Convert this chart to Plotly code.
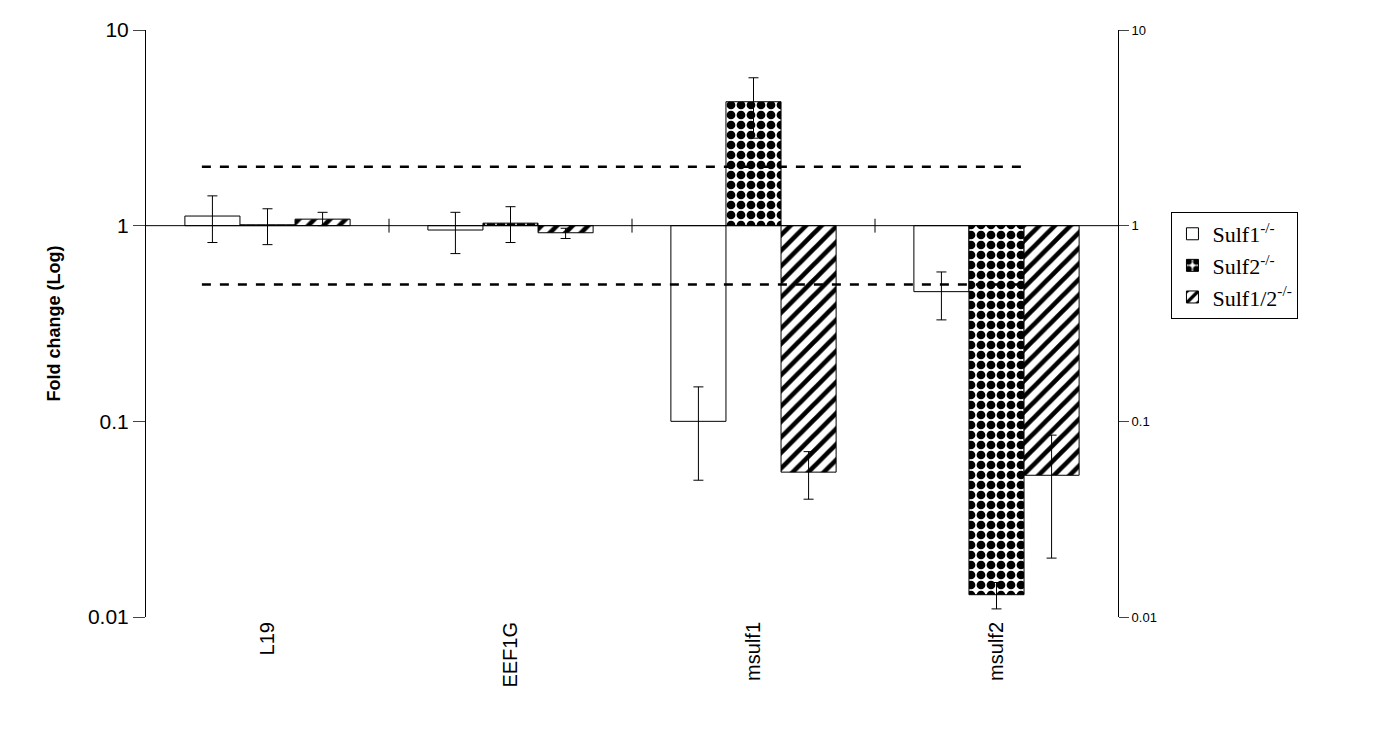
import plotly.graph_objects as go

genes = ["L19", "EEF1G", "msulf1", "msulf2"]
series = ["Sulf1<sup>-/-</sup>", "Sulf2<sup>-/-</sup>", "Sulf1/2<sup>-/-</sup>"]
values = [[1.12, 0.95, 0.10, 0.46],
          [1.01, 1.03, 4.3, 0.013],
          [1.08, 0.92, 0.055, 0.053]]
err_hi = [[1.42, 1.17, 0.15, 0.58],
          [1.22, 1.25, 5.7, 0.015],
          [1.17, 0.97, 0.07, 0.085]]
err_lo = [[0.82, 0.72, 0.05, 0.33],
          [0.80, 0.82, 2.8, 0.011],
          [1.00, 0.86, 0.04, 0.02]]
patterns = ["", ".", "/"]
thresholds = [2, 0.5]

fig = go.Figure()
for i, name in enumerate(series):
    v = values[i]
    pat = dict(shape=patterns[i], fgcolor="black", bgcolor="white", fgopacity=1)
    if patterns[i] == ".":
        pat.update(size=10, solidity=0.6)
    elif patterns[i] == "/":
        pat.update(size=11, solidity=0.42)
    fig.add_trace(go.Bar(
        x=genes, y=[val - 1 for val in v], base=1, name=name,
        marker=dict(color="white", line=dict(color="black", width=1), pattern=pat),
        error_y=dict(type="data", symmetric=False,
                     array=[h - val for h, val in zip(err_hi[i], v)],
                     arrayminus=[val - l for l, val in zip(err_lo[i], v)],
                     color="black", thickness=1, width=5),
    ))
fig.add_trace(go.Scatter(x=genes, y=[1]*4, yaxis="y2", mode="markers",
                         marker=dict(opacity=0), showlegend=False, hoverinfo="skip"))

shapes = []
for t in thresholds:
    shapes.append(dict(type="line", xref="x", yref="y", x0=-0.27, x1=3.12, y0=t, y1=t,
                       line=dict(color="black", width=2.5, dash="dash")))
shapes.append(dict(type="line", xref="paper", yref="y", x0=0, x1=1, y0=1, y1=1,
                   line=dict(color="black", width=1)))
for b in [0.5, 1.5, 2.5]:
    shapes.append(dict(type="line", xref="x", yref="y", x0=b, x1=b, y0=1/1.085, y1=1.085,
                       line=dict(color="black", width=1)))

fig.update_layout(
    width=1381, height=731, plot_bgcolor="white", paper_bgcolor="white",
    font=dict(family="Liberation Sans, Arial", color="black"),
    margin=dict(l=138, r=271, t=10, b=122),
    barmode="group", bargap=0.32, bargroupgap=0,
    shapes=shapes,
    xaxis=dict(showline=False, ticks="", tickangle=-90, tickfont=dict(size=20),
               range=[-0.5, 3.5]),
    yaxis=dict(type="log", range=[-2, 1], showline=True, linecolor="black",
               ticks="outside", ticklen=12, tickvals=[0.01, 0.1, 1, 10],
               ticktext=["0.01", "0.1", "1", "10"], tickfont=dict(size=21),
               showgrid=False, zeroline=False,
               title=dict(text="<b>Fold change (Log)</b>", font=dict(size=18), standoff=22)),
    yaxis2=dict(type="log", range=[-2, 1], overlaying="y", side="right",
                showline=True, linecolor="black", ticks="outside", ticklen=10,
                tickvals=[0.01, 0.1, 1, 10], ticktext=["0.01", "0.1", "1", "10"],
                tickfont=dict(size=13), showgrid=False),
    legend=dict(x=1.055, y=0.69, xanchor="left", yanchor="top",
                bordercolor="black", borderwidth=1,
                font=dict(family="Liberation Serif, Times New Roman", size=22),
                tracegroupgap=10),
)
fig.write_html("out.html")
